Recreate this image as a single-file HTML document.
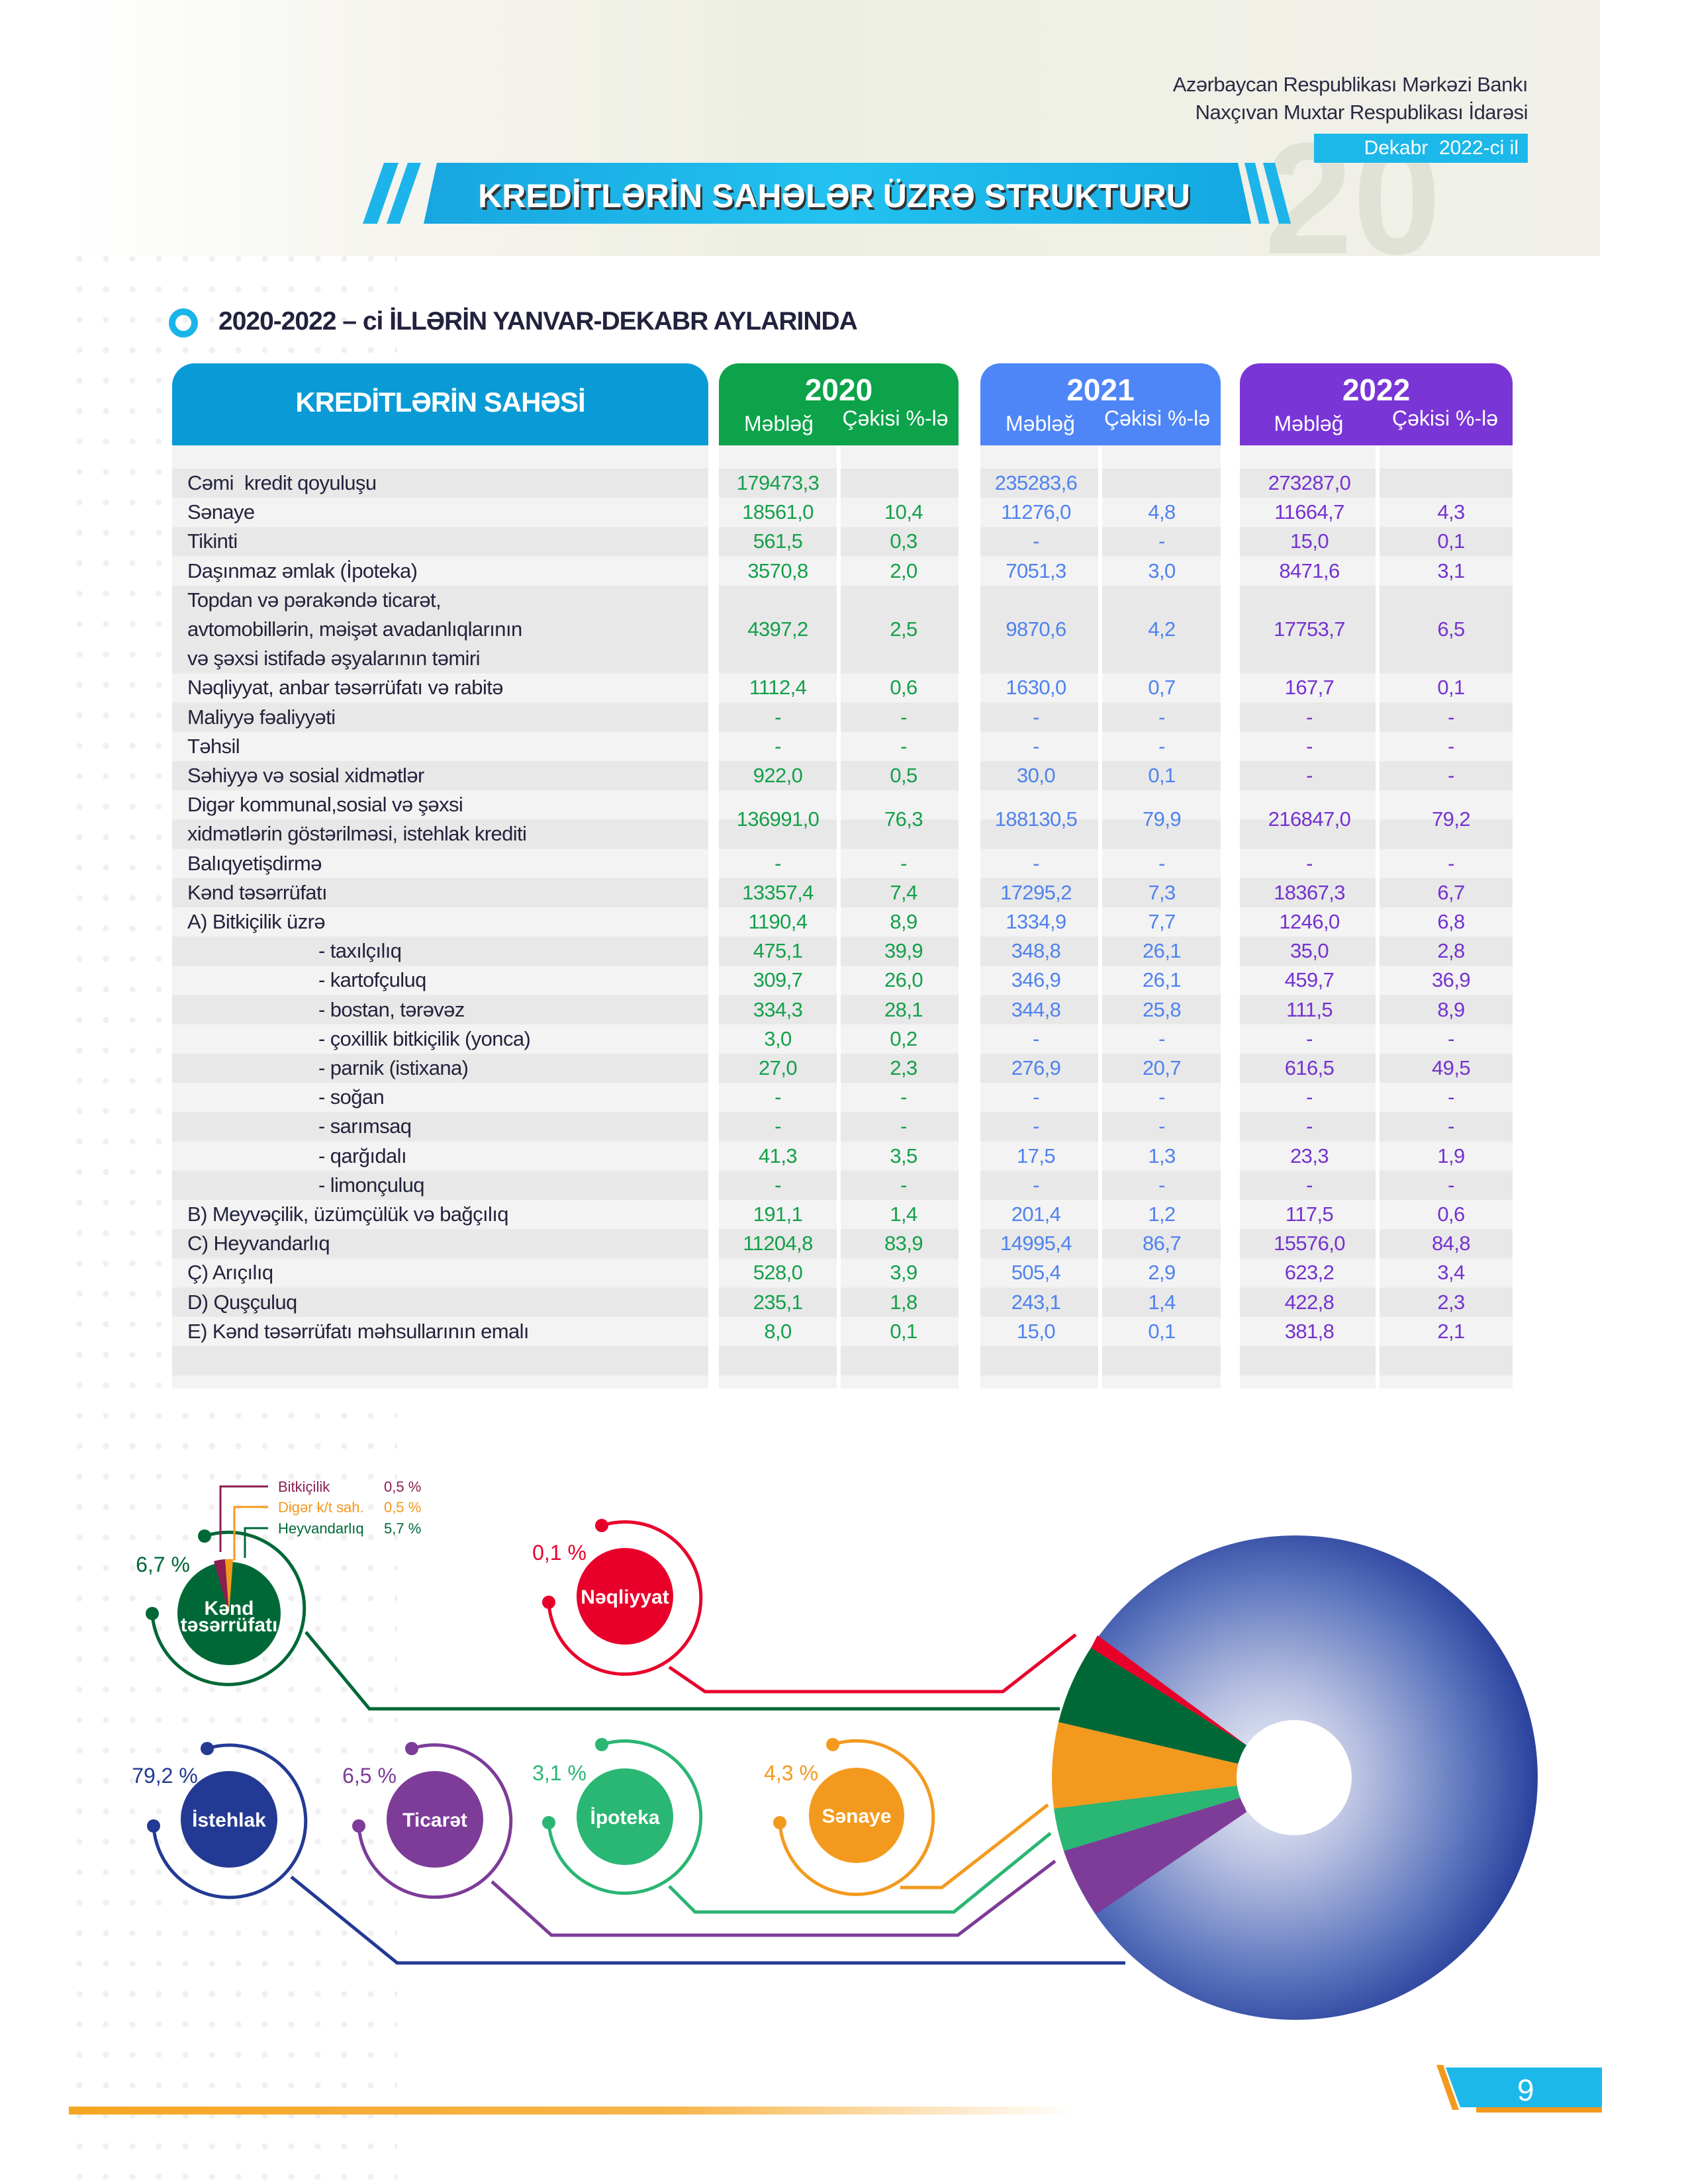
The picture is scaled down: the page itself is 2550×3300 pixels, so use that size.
<!DOCTYPE html>
<html><head><meta charset="utf-8">
<style>
*{margin:0;padding:0;box-sizing:border-box}
body{width:2550px;height:3300px;position:relative;background:#fff;font-family:"Liberation Sans",sans-serif;overflow:hidden}
.a{position:absolute}
.band{left:104px;top:0;width:2313px;height:387px;background:linear-gradient(90deg,#ffffff 0%,#f6f5ef 20%,#eeefe4 45%,#eff0e6 70%,#f1f1ea 100%)}
.dots{left:100px;top:0;width:500px;height:3300px;background-image:radial-gradient(circle,#ececec 4px,transparent 5px);background-size:40px 46px;opacity:.8}
.rt{right:242px;font-size:31px;color:#2a2a44;text-align:right;letter-spacing:-0.5px}
.row{position:absolute;left:260px;width:2025px;height:44.2px;font-size:31px;letter-spacing:-0.6px}
.row div{position:absolute;top:0;height:44.2px;line-height:44.2px;white-space:nowrap}
.lb{left:23px;color:#23233d}
.c{text-align:center;width:180px}
.g{color:#14a04a}.b{color:#4f82ef}.p{color:#7532d0}
.hd{color:#fff;text-align:center}
.pl{font-size:32px;letter-spacing:-0.5px}
.cl{font-size:30px;font-weight:bold;fill:#fff;font-family:"Liberation Sans",sans-serif}
</style></head><body>
<div class="a dots"></div>
<div class="a band"></div>
<!-- big "20" watermark -->
<div class="a" style="left:1910px;top:180px;font-size:240px;font-weight:bold;color:#e0e2d6;line-height:1">20</div>
<div class="a rt" style="top:110px">Azərbaycan Respublikası Mərkəzi Bankı</div>
<div class="a rt" style="top:152px">Naxçıvan Muxtar Respublikası İdarəsi</div>
<div class="a" style="left:1985px;top:202px;width:323px;height:44px;background:#1cb8ea;color:#fff;font-size:30px;line-height:44px;text-align:right;padding-right:14px">Dekabr&nbsp; 2022-ci il</div>
<!-- banner -->
<svg class="a" style="left:540px;top:240px" width="1440" height="100">
<defs><linearGradient id="bn" x1="0" x2="1"><stop offset="0" stop-color="#18a6e0"/><stop offset=".5" stop-color="#22c2f0"/><stop offset="1" stop-color="#14a8e2"/></linearGradient></defs>
<polygon points="40,6 62,6 30,98 8,98" fill="#1cb4ea"/>
<polygon points="76,6 96,6 64,98 44,98" fill="#1cb4ea"/>
<polygon points="120,6 1330,6 1350,98 100,98" fill="url(#bn)"/>
<polygon points="1340,6 1356,6 1378,98 1362,98" fill="#1cb4ea"/>
<polygon points="1368,6 1386,6 1410,98 1392,98" fill="#1cb4ea"/>
<text x="720" y="73" text-anchor="middle" font-family="Liberation Sans" font-weight="bold" font-size="50" fill="#333" transform="translate(3,4)">KREDİTLƏRİN SAHƏLƏR ÜZRƏ STRUKTURU</text>
<text x="720" y="73" text-anchor="middle" font-family="Liberation Sans" font-weight="bold" font-size="50" fill="#fff">KREDİTLƏRİN SAHƏLƏR ÜZRƏ STRUKTURU</text>
</svg>
<!-- subtitle -->
<div class="a" style="left:255px;top:466px;width:44px;height:44px;border-radius:50%;border:10px solid #1ab4e8"></div>
<div class="a" style="left:330px;top:464px;font-size:39px;font-weight:bold;color:#22223e;letter-spacing:-1px">2020-2022 – ci İLLƏRİN YANVAR-DEKABR AYLARINDA</div>

<!-- table header -->
<div class="a" style="left:260px;top:549px;width:810px;height:124px;background:#0a9bd6;border-radius:34px 34px 0 0"></div>
<div class="a hd" style="left:260px;top:584px;width:810px;font-size:42px;font-weight:bold;letter-spacing:-1px">KREDİTLƏRİN SAHƏSİ</div>
<div class="a" style="left:1086px;top:549px;width:362px;height:124px;background:#0ca34a;border-radius:30px 30px 0 0"></div>
<div class="a" style="left:1481px;top:549px;width:363px;height:124px;background:#4f86f7;border-radius:30px 30px 0 0"></div>
<div class="a" style="left:1873px;top:549px;width:412px;height:124px;background:#7a35d6;border-radius:30px 30px 0 0"></div>
<div class="a hd" style="left:1086px;top:562px;width:362px;font-size:46px;font-weight:bold">2020</div>
<div class="a hd" style="left:1481px;top:562px;width:363px;font-size:46px;font-weight:bold">2021</div>
<div class="a hd" style="left:1873px;top:562px;width:412px;font-size:46px;font-weight:bold">2022</div>
<div class="a hd" style="left:1086px;top:622px;width:181px;font-size:32px">Məbləğ</div>
<div class="a hd" style="left:1257px;top:614px;width:191px;font-size:32px">Çəkisi %-lə</div>
<div class="a hd" style="left:1481px;top:622px;width:181px;font-size:32px">Məbləğ</div>
<div class="a hd" style="left:1652px;top:614px;width:192px;font-size:32px">Çəkisi %-lə</div>
<div class="a hd" style="left:1873px;top:622px;width:208px;font-size:32px">Məbləğ</div>
<div class="a hd" style="left:2081px;top:614px;width:204px;font-size:32px">Çəkisi %-lə</div>

<!-- table body background -->
<div class="a" style="left:260px;top:673px;width:2025px;height:1425px;background:#f3f3f3"></div>
<div id="stripes"></div>
<svg class="a" style="left:0;top:0" width="2550" height="2110">
<g fill="#e8e8e8">
<rect x="260" y="708" width="2025" height="44.2"/>
<rect x="260" y="796.4" width="2025" height="44.2"/>
<rect x="260" y="884.8" width="2025" height="132.6"/>
<rect x="260" y="1061.6" width="2025" height="44.2"/>
<rect x="260" y="1150" width="2025" height="44.2"/>
<rect x="260" y="1238.4" width="2025" height="44.2"/>
<rect x="260" y="1326.8" width="2025" height="44.2"/>
<rect x="260" y="1415.2" width="2025" height="44.2"/>
<rect x="260" y="1503.6" width="2025" height="44.2"/>
<rect x="260" y="1592" width="2025" height="44.2"/>
<rect x="260" y="1680.4" width="2025" height="44.2"/>
<rect x="260" y="1768.8" width="2025" height="44.2"/>
<rect x="260" y="1857.2" width="2025" height="44.2"/>
<rect x="260" y="1945.6" width="2025" height="44.2"/>
<rect x="260" y="2034" width="2025" height="44.2"/>
</g>
<g fill="#fff">
<rect x="1070" y="673" width="16" height="1430"/>
<rect x="1448" y="673" width="33" height="1430"/>
<rect x="1844" y="673" width="29" height="1430"/>
<rect x="1264" y="673" width="6" height="1430"/>
<rect x="1659" y="673" width="6" height="1430"/>
<rect x="2078" y="673" width="6" height="1430"/>
</g>
</svg>

<!-- rows: top = 708 + n*44.2 -->
<div class="row" style="top:708px"><div class="lb">Cəmi&nbsp; kredit qoyuluşu</div><div class="c g" style="left:825px">179473,3</div><div class="c b" style="left:1215px">235283,6</div><div class="c p" style="left:1628px">273287,0</div></div>
<div class="row" style="top:752.2px"><div class="lb">Sənaye</div><div class="c g" style="left:825px">18561,0</div><div class="c g" style="left:1015px">10,4</div><div class="c b" style="left:1215px">11276,0</div><div class="c b" style="left:1405px">4,8</div><div class="c p" style="left:1628px">11664,7</div><div class="c p" style="left:1842px">4,3</div></div>
<div class="row" style="top:796.4px"><div class="lb">Tikinti</div><div class="c g" style="left:825px">561,5</div><div class="c g" style="left:1015px">0,3</div><div class="c b" style="left:1215px">-</div><div class="c b" style="left:1405px">-</div><div class="c p" style="left:1628px">15,0</div><div class="c p" style="left:1842px">0,1</div></div>
<div class="row" style="top:840.6px"><div class="lb">Daşınmaz əmlak (İpoteka)</div><div class="c g" style="left:825px">3570,8</div><div class="c g" style="left:1015px">2,0</div><div class="c b" style="left:1215px">7051,3</div><div class="c b" style="left:1405px">3,0</div><div class="c p" style="left:1628px">8471,6</div><div class="c p" style="left:1842px">3,1</div></div>
<div class="row" style="top:884.8px;height:132.6px"><div class="lb" style="line-height:44.2px;height:132.6px">Topdan və pərakəndə ticarət,<br>avtomobillərin, məişət avadanlıqlarının<br>və şəxsi istifadə əşyalarının təmiri</div><div class="c g" style="left:825px;top:44.2px">4397,2</div><div class="c g" style="left:1015px;top:44.2px">2,5</div><div class="c b" style="left:1215px;top:44.2px">9870,6</div><div class="c b" style="left:1405px;top:44.2px">4,2</div><div class="c p" style="left:1628px;top:44.2px">17753,7</div><div class="c p" style="left:1842px;top:44.2px">6,5</div></div>
<div class="row" style="top:1017.4px"><div class="lb">Nəqliyyat, anbar təsərrüfatı və rabitə</div><div class="c g" style="left:825px">1112,4</div><div class="c g" style="left:1015px">0,6</div><div class="c b" style="left:1215px">1630,0</div><div class="c b" style="left:1405px">0,7</div><div class="c p" style="left:1628px">167,7</div><div class="c p" style="left:1842px">0,1</div></div>
<div class="row" style="top:1061.6px"><div class="lb">Maliyyə fəaliyyəti</div><div class="c g" style="left:825px">-</div><div class="c g" style="left:1015px">-</div><div class="c b" style="left:1215px">-</div><div class="c b" style="left:1405px">-</div><div class="c p" style="left:1628px">-</div><div class="c p" style="left:1842px">-</div></div>
<div class="row" style="top:1105.8px"><div class="lb">Təhsil</div><div class="c g" style="left:825px">-</div><div class="c g" style="left:1015px">-</div><div class="c b" style="left:1215px">-</div><div class="c b" style="left:1405px">-</div><div class="c p" style="left:1628px">-</div><div class="c p" style="left:1842px">-</div></div>
<div class="row" style="top:1150px"><div class="lb">Səhiyyə və sosial xidmətlər</div><div class="c g" style="left:825px">922,0</div><div class="c g" style="left:1015px">0,5</div><div class="c b" style="left:1215px">30,0</div><div class="c b" style="left:1405px">0,1</div><div class="c p" style="left:1628px">-</div><div class="c p" style="left:1842px">-</div></div>
<div class="row" style="top:1194.2px;height:88.4px"><div class="lb" style="height:88.4px">Digər kommunal,sosial və şəxsi<br>xidmətlərin göstərilməsi, istehlak krediti</div><div class="c g" style="left:825px;top:22px">136991,0</div><div class="c g" style="left:1015px;top:22px">76,3</div><div class="c b" style="left:1215px;top:22px">188130,5</div><div class="c b" style="left:1405px;top:22px">79,9</div><div class="c p" style="left:1628px;top:22px">216847,0</div><div class="c p" style="left:1842px;top:22px">79,2</div></div>
<div class="row" style="top:1282.6px"><div class="lb">Balıqyetişdirmə</div><div class="c g" style="left:825px">-</div><div class="c g" style="left:1015px">-</div><div class="c b" style="left:1215px">-</div><div class="c b" style="left:1405px">-</div><div class="c p" style="left:1628px">-</div><div class="c p" style="left:1842px">-</div></div>
<div class="row" style="top:1326.8px"><div class="lb">Kənd təsərrüfatı</div><div class="c g" style="left:825px">13357,4</div><div class="c g" style="left:1015px">7,4</div><div class="c b" style="left:1215px">17295,2</div><div class="c b" style="left:1405px">7,3</div><div class="c p" style="left:1628px">18367,3</div><div class="c p" style="left:1842px">6,7</div></div>
<div class="row" style="top:1371px"><div class="lb">A) Bitkiçilik üzrə</div><div class="c g" style="left:825px">1190,4</div><div class="c g" style="left:1015px">8,9</div><div class="c b" style="left:1215px">1334,9</div><div class="c b" style="left:1405px">7,7</div><div class="c p" style="left:1628px">1246,0</div><div class="c p" style="left:1842px">6,8</div></div>
<div class="row" style="top:1415.2px"><div class="lb" style="left:221px">- taxılçılıq</div><div class="c g" style="left:825px">475,1</div><div class="c g" style="left:1015px">39,9</div><div class="c b" style="left:1215px">348,8</div><div class="c b" style="left:1405px">26,1</div><div class="c p" style="left:1628px">35,0</div><div class="c p" style="left:1842px">2,8</div></div>
<div class="row" style="top:1459.4px"><div class="lb" style="left:221px">- kartofçuluq</div><div class="c g" style="left:825px">309,7</div><div class="c g" style="left:1015px">26,0</div><div class="c b" style="left:1215px">346,9</div><div class="c b" style="left:1405px">26,1</div><div class="c p" style="left:1628px">459,7</div><div class="c p" style="left:1842px">36,9</div></div>
<div class="row" style="top:1503.6px"><div class="lb" style="left:221px">- bostan, tərəvəz</div><div class="c g" style="left:825px">334,3</div><div class="c g" style="left:1015px">28,1</div><div class="c b" style="left:1215px">344,8</div><div class="c b" style="left:1405px">25,8</div><div class="c p" style="left:1628px">111,5</div><div class="c p" style="left:1842px">8,9</div></div>
<div class="row" style="top:1547.8px"><div class="lb" style="left:221px">- çoxillik bitkiçilik (yonca)</div><div class="c g" style="left:825px">3,0</div><div class="c g" style="left:1015px">0,2</div><div class="c b" style="left:1215px">-</div><div class="c b" style="left:1405px">-</div><div class="c p" style="left:1628px">-</div><div class="c p" style="left:1842px">-</div></div>
<div class="row" style="top:1592px"><div class="lb" style="left:221px">- parnik (istixana)</div><div class="c g" style="left:825px">27,0</div><div class="c g" style="left:1015px">2,3</div><div class="c b" style="left:1215px">276,9</div><div class="c b" style="left:1405px">20,7</div><div class="c p" style="left:1628px">616,5</div><div class="c p" style="left:1842px">49,5</div></div>
<div class="row" style="top:1636.2px"><div class="lb" style="left:221px">- soğan</div><div class="c g" style="left:825px">-</div><div class="c g" style="left:1015px">-</div><div class="c b" style="left:1215px">-</div><div class="c b" style="left:1405px">-</div><div class="c p" style="left:1628px">-</div><div class="c p" style="left:1842px">-</div></div>
<div class="row" style="top:1680.4px"><div class="lb" style="left:221px">- sarımsaq</div><div class="c g" style="left:825px">-</div><div class="c g" style="left:1015px">-</div><div class="c b" style="left:1215px">-</div><div class="c b" style="left:1405px">-</div><div class="c p" style="left:1628px">-</div><div class="c p" style="left:1842px">-</div></div>
<div class="row" style="top:1724.6px"><div class="lb" style="left:221px">- qarğıdalı</div><div class="c g" style="left:825px">41,3</div><div class="c g" style="left:1015px">3,5</div><div class="c b" style="left:1215px">17,5</div><div class="c b" style="left:1405px">1,3</div><div class="c p" style="left:1628px">23,3</div><div class="c p" style="left:1842px">1,9</div></div>
<div class="row" style="top:1768.8px"><div class="lb" style="left:221px">- limonçuluq</div><div class="c g" style="left:825px">-</div><div class="c g" style="left:1015px">-</div><div class="c b" style="left:1215px">-</div><div class="c b" style="left:1405px">-</div><div class="c p" style="left:1628px">-</div><div class="c p" style="left:1842px">-</div></div>
<div class="row" style="top:1813px"><div class="lb">B) Meyvəçilik, üzümçülük və bağçılıq</div><div class="c g" style="left:825px">191,1</div><div class="c g" style="left:1015px">1,4</div><div class="c b" style="left:1215px">201,4</div><div class="c b" style="left:1405px">1,2</div><div class="c p" style="left:1628px">117,5</div><div class="c p" style="left:1842px">0,6</div></div>
<div class="row" style="top:1857.2px"><div class="lb">C) Heyvandarlıq</div><div class="c g" style="left:825px">11204,8</div><div class="c g" style="left:1015px">83,9</div><div class="c b" style="left:1215px">14995,4</div><div class="c b" style="left:1405px">86,7</div><div class="c p" style="left:1628px">15576,0</div><div class="c p" style="left:1842px">84,8</div></div>
<div class="row" style="top:1901.4px"><div class="lb">Ç) Arıçılıq</div><div class="c g" style="left:825px">528,0</div><div class="c g" style="left:1015px">3,9</div><div class="c b" style="left:1215px">505,4</div><div class="c b" style="left:1405px">2,9</div><div class="c p" style="left:1628px">623,2</div><div class="c p" style="left:1842px">3,4</div></div>
<div class="row" style="top:1945.6px"><div class="lb">D) Quşçuluq</div><div class="c g" style="left:825px">235,1</div><div class="c g" style="left:1015px">1,8</div><div class="c b" style="left:1215px">243,1</div><div class="c b" style="left:1405px">1,4</div><div class="c p" style="left:1628px">422,8</div><div class="c p" style="left:1842px">2,3</div></div>
<div class="row" style="top:1989.8px"><div class="lb">E) Kənd təsərrüfatı məhsullarının emalı</div><div class="c g" style="left:825px">8,0</div><div class="c g" style="left:1015px">0,1</div><div class="c b" style="left:1215px">15,0</div><div class="c b" style="left:1405px">0,1</div><div class="c p" style="left:1628px">381,8</div><div class="c p" style="left:1842px">2,1</div></div>

<!-- charts -->
<svg class="a" style="left:0;top:2150px" width="2550" height="1150" viewBox="0 2150 2550 1150" font-family="Liberation Sans">
<defs>
<radialGradient id="bg" cx="0.45" cy="0.5" r="0.55"><stop offset="0" stop-color="#f2f3fa"/><stop offset="0.35" stop-color="#b6bfe0"/><stop offset="0.75" stop-color="#5b74bd"/><stop offset="1" stop-color="#2a419c"/></radialGradient>
</defs>
<!-- big donut -->
<circle cx="1957" cy="2686" r="366" fill="url(#bg)"/>
<polygon points="1883,2637 1658,2471 1648,2490" fill="#e8002a"/>
<path d="M1883,2637 L1648,2490 A366,366 0 0 0 1599,2602 L1870,2665 Z" fill="#006837"/>
<path d="M1870,2665 L1599,2602 A366,366 0 0 0 1592,2733 L1870,2698 Z" fill="#f39a1e"/>
<path d="M1870,2698 L1592,2733 A366,366 0 0 0 1607,2797 L1875,2716 Z" fill="#2ab673"/>
<path d="M1875,2716 L1607,2797 A366,366 0 0 0 1656,2892 L1883,2738 Z" fill="#7d3c98"/>
<circle cx="1955" cy="2686" r="87" fill="#fff"/>

<g fill="none" stroke-width="5">
<!-- connectors -->
<polyline points="462,2466 558,2582 1601,2582" stroke="#006837"/>
<polyline points="1011,2519 1065,2556 1515,2556 1625,2470" stroke="#e8002a"/>
<polyline points="440,2836 600,2966 1700,2966" stroke="#233a94"/>
<polyline points="743,2843 833,2924 1447,2924 1594,2812" stroke="#7d3c98"/>
<polyline points="1011,2850 1050,2889 1441,2889 1587,2770" stroke="#2ab673"/>
<polyline points="1360,2852 1423,2852 1583,2727" stroke="#f39a1e"/>
<!-- rings -->
<path d="M309,2321 A115,115 0 1 1 230,2438" stroke="#006837"/>
<path d="M909,2305 A115,115 0 1 1 829,2421" stroke="#e8002a"/>
<path d="M313,2642 A115,115 0 1 1 232,2759" stroke="#233a94"/>
<path d="M622,2642 A115,115 0 1 1 542,2759" stroke="#7d3c98"/>
<path d="M909,2636 A115,115 0 1 1 829,2754" stroke="#2ab673"/>
<path d="M1258,2636 A116,116 0 1 1 1178,2754" stroke="#f39a1e"/>
<!-- legend leaders -->
<polyline points="405,2246 333,2246 333,2345" stroke="#8b1d52" stroke-width="3"/>
<polyline points="405,2277 354,2277 354,2358" stroke="#f39a1e" stroke-width="3"/>
<polyline points="405,2309 370,2309 370,2354" stroke="#006837" stroke-width="3"/>
</g>
<g>
<circle cx="309" cy="2321" r="10" fill="#006837"/><circle cx="230" cy="2438" r="10" fill="#006837"/>
<circle cx="909" cy="2305" r="10" fill="#e8002a"/><circle cx="829" cy="2421" r="10" fill="#e8002a"/>
<circle cx="313" cy="2642" r="10" fill="#233a94"/><circle cx="232" cy="2759" r="10" fill="#233a94"/>
<circle cx="622" cy="2642" r="10" fill="#7d3c98"/><circle cx="542" cy="2759" r="10" fill="#7d3c98"/>
<circle cx="909" cy="2636" r="10" fill="#2ab673"/><circle cx="829" cy="2754" r="10" fill="#2ab673"/>
<circle cx="1258" cy="2636" r="10" fill="#f39a1e"/><circle cx="1178" cy="2754" r="10" fill="#f39a1e"/>
</g>
<!-- filled circles -->
<ellipse cx="346" cy="2438" rx="78" ry="78" fill="#006837"/>
<path d="M346,2438 L323,2359 A80,80 0 0 1 340,2356 Z" fill="#8b1d52"/>
<path d="M346,2438 L340,2356 A80,80 0 0 1 352,2356 Z" fill="#f39a1e"/>
<circle cx="944" cy="2412" r="73" fill="#e8002a"/>
<circle cx="346" cy="2749" r="73" fill="#233a94"/>
<circle cx="657" cy="2749" r="73" fill="#7d3c98"/>
<circle cx="944" cy="2745" r="73" fill="#2ab673"/>
<circle cx="1294" cy="2743" r="72" fill="#f39a1e"/>
<text class="cl" x="346" y="2440" text-anchor="middle" font-size="24">Kənd</text>
<text class="cl" x="346" y="2465" text-anchor="middle" font-size="24">təsərrüfatı</text>
<text class="cl" x="944" y="2423" text-anchor="middle">Nəqliyyat</text>
<text class="cl" x="346" y="2760" text-anchor="middle">İstehlak</text>
<text class="cl" x="657" y="2760" text-anchor="middle">Ticarət</text>
<text class="cl" x="944" y="2756" text-anchor="middle">İpoteka</text>
<text class="cl" x="1294" y="2754" text-anchor="middle">Sənaye</text>
<!-- percent labels -->
<text x="246" y="2375" text-anchor="middle" font-size="32" fill="#006837">6,7 %</text>
<text x="845" y="2357" text-anchor="middle" font-size="32" fill="#e8002a">0,1 %</text>
<text x="249" y="2694" text-anchor="middle" font-size="32" fill="#233a94">79,2 %</text>
<text x="558" y="2694" text-anchor="middle" font-size="32" fill="#7d3c98">6,5 %</text>
<text x="845" y="2690" text-anchor="middle" font-size="32" fill="#2ab673">3,1 %</text>
<text x="1195" y="2690" text-anchor="middle" font-size="32" fill="#f39a1e">4,3 %</text>
<!-- legend -->
<text x="420" y="2254" font-size="22" fill="#8b1d52">Bitkiçilik</text><text x="580" y="2254" font-size="22" fill="#8b1d52">0,5 %</text>
<text x="420" y="2285" font-size="22" fill="#f39a1e">Digər k/t sah.</text><text x="580" y="2285" font-size="22" fill="#f39a1e">0,5 %</text>
<text x="420" y="2317" font-size="22" fill="#006837">Heyvandarlıq</text><text x="580" y="2317" font-size="22" fill="#006837">5,7 %</text>
</svg>

<!-- footer -->
<div class="a" style="left:104px;top:3183px;width:1520px;height:12px;background:linear-gradient(90deg,#f5a623 0%,#f7b54a 60%,rgba(255,255,255,0) 100%)"></div>
<svg class="a" style="left:2170px;top:3118px" width="260" height="82">
<polygon points="0,2 10,2 34,70 24,70" fill="#f39a1e"/>
<polygon points="14,6 250,6 250,66 36,66" fill="#1cb8ea"/>
<rect x="60" y="66" width="190" height="8" fill="#f39a1e"/>
<text x="122" y="56" font-family="Liberation Sans" font-size="46" fill="#fff">9</text>
</svg>
</body></html>
